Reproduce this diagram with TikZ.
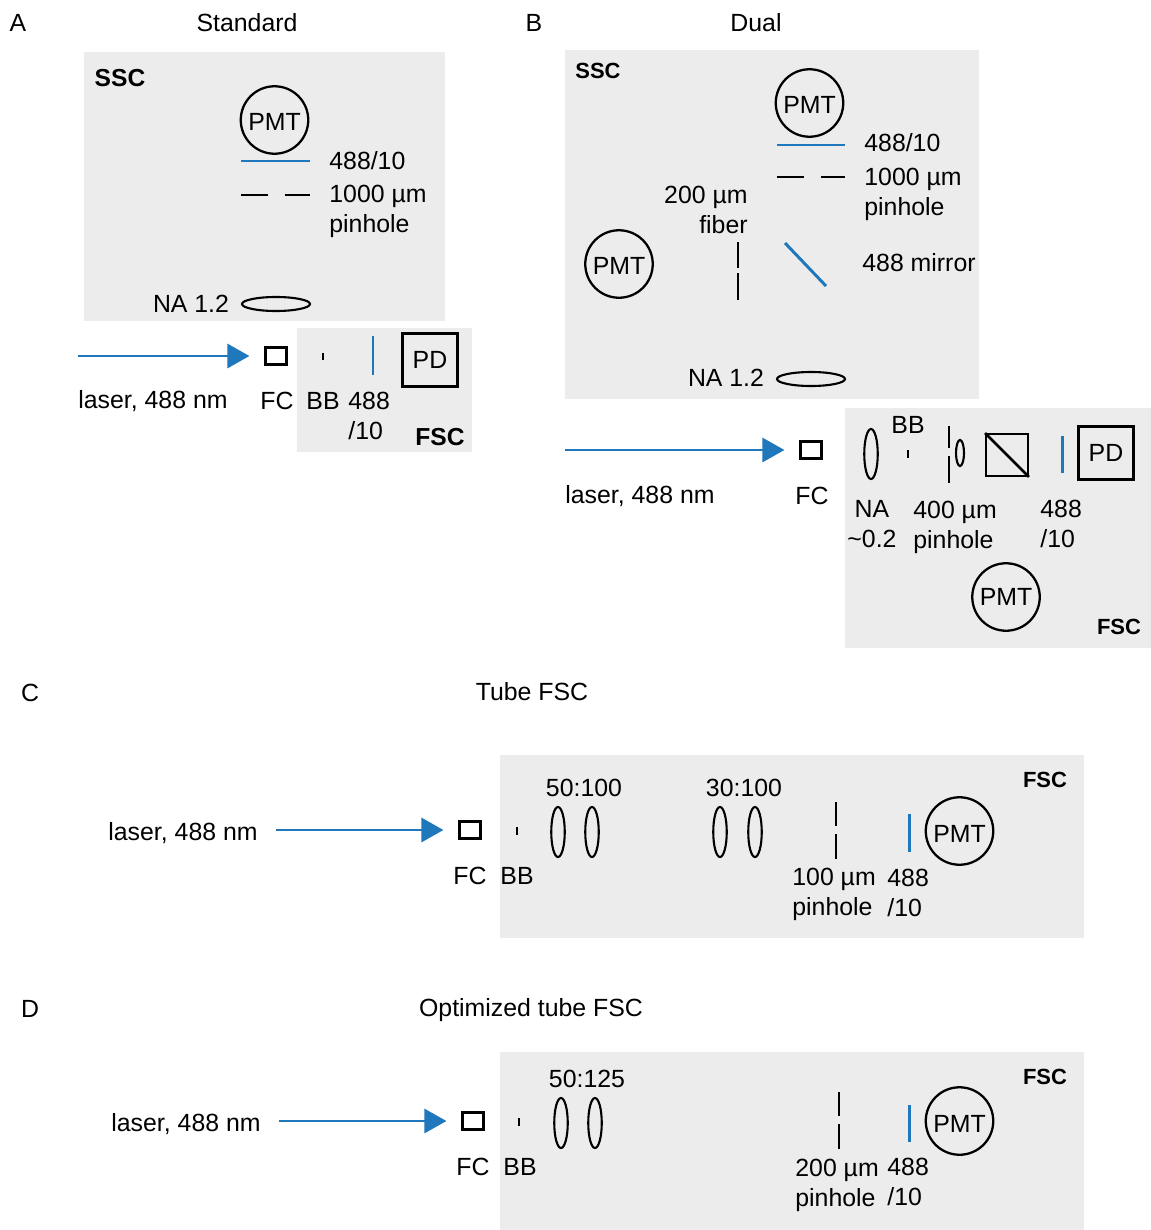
\documentclass[tikz,border=0pt]{standalone}
\usepackage{fontspec}
\setmainfont{Liberation Sans}
\usepackage{tikz}
\usetikzlibrary{arrows.meta,shapes.geometric}
\definecolor{beam}{HTML}{1F77BC}
\definecolor{panel}{HTML}{ECECEC}

\begin{document}
\begin{tikzpicture}[x=0.02cm, y=-0.02cm,
  font=\fontsize{14.15}{17}\selectfont,
  lbl/.style={inner sep=0pt, align=left},
  tag/.style={inner sep=0pt, font=\fontsize{14}{17}\selectfont\bfseries},
  smalltag/.style={inner sep=0pt, font=\fontsize{12.5}{15}\selectfont\bfseries},
  pmt/.style={draw=black, circle, line width=1.3pt, minimum size=1.35cm, inner sep=0pt, text height=0.44cm},
  pd/.style={draw=black, line width=1.5pt, minimum width=1.1cm, minimum height=1.06cm, inner sep=0pt},
  fc/.style={draw=black, line width=1.2pt, minimum width=0.42cm, minimum height=0.34cm, inner sep=0pt},
  lens/.style={draw=black, ellipse, line width=1.2pt, inner sep=0pt},
  vlens/.style={lens, minimum width=0.27cm, minimum height=1cm},
  bar/.style={draw=black, line width=1.5pt},
  filt/.style={draw=beam, line width=1.7pt},
  arr/.style={-{Triangle[length=0.44cm, width=0.48cm]}, draw=beam, line width=1.6pt, shorten >=0.3cm}]
\useasboundingbox (0,0) rectangle (1151,1230);

% panels
\fill[panel] (84,52) rectangle (445,321);
\fill[panel] (297,328) rectangle (472,452);
\fill[panel] (565,50) rectangle (979,399);
\fill[panel] (845,408) rectangle (1151,648);
\fill[panel] (500,755) rectangle (1084,938);
\fill[panel] (500,1052) rectangle (1084,1230);

% titles
\foreach \n/\x/\y/\t in {a/18/23/A, b/534/23/B, c/30/693/C, d/30/1009/D,
  ta/247/23/Standard, tb/756/23/Dual, tc/532/692/Tube FSC, td/531/1010/Optimized tube FSC}
  \node[lbl] (title\n) at (\x,\y) {\t};

% detectors
\foreach \n/\x/\y in {a/274.5/120, b/809.5/103, bb/619/264, c/959.5/831, d/959.5/1121}
  \node[pmt] (pmt\n) at (\x,\y) {PMT};
\node[pmt, text height=0.35cm] (pmtbf) at (1006,597) {PMT};
\node[pd] (pda) at (430,360) {PD};
\node[pd] (pdb) at (1106,453) {PD};

% flow cells and laser beams
\foreach \n/\x/\y/\s in {a/276/356/78, b/811/450/565, c/470/830/276, d/473/1121/279} {
  \node[fc] (fc\n) at (\x,\y) {};
  \coordinate (las\n) at (\s,\y);
  \draw[arr] (las\n) -- (fc\n);
}
\node[lbl, anchor=west] (laa) at (78,401) {laser, 488 nm};
\node[lbl, anchor=west] (lab) at (565,496) {laser, 488 nm};
\node[lbl] (lac) at (183,833) {laser, 488 nm};
\node[lbl] (lad) at (186,1124) {laser, 488 nm};

% panel A
\node[tag] (ssca) at (120,78) {SSC};
\node[tag] (fsca) at (440,437) {FSC};
\draw[filt] (241,161) -- (310,161);
\draw[bar] (241,195) -- (268,195) (285,195) -- (310,195);
\node[lbl, anchor=west] (fa) at (329,161) {488/10};
\node[lbl, anchor=west] (pha) at (329,211) {1000 µm\\pinhole};
\node[lbl] (naa) at (191,304) {NA 1.2};
\node[lens, minimum width=1.36cm, minimum height=0.28cm] (la) at (276,304) {};
\node[lbl] (fcla) at (277,401) {FC};
\node[lbl] (bba) at (323,401) {BB};
\node[lbl, anchor=west] (fla) at (348,416) {488\\ /10};
\draw[bar] (323,353) -- (323,360);
\draw[filt] (373,336) -- (373,375);

% panel B
\node[smalltag] (sscb) at (598,71) {SSC};
\node[smalltag] (fscb) at (1119,627) {FSC};
\draw[filt] (777,145) -- (845,145);
\draw[bar] (777,177) -- (804,177) (821,177) -- (845,177);
\node[lbl, anchor=west] (fb) at (864,143) {488/10};
\node[lbl, anchor=west] (phb) at (864,194) {1000 µm\\pinhole};
\node[lbl, anchor=east, align=right] (fib) at (748,210) {200 µm\\fiber};
\draw[bar] (738,242) -- (738,268) (738,273) -- (738,300);
\draw[filt] (785,243) -- (826,286);
\node[lbl, anchor=west] (mib) at (862,263) {488 mirror};
\node[lbl] (nab) at (726,378) {NA 1.2};
\node[lens, minimum width=1.36cm, minimum height=0.28cm] (lb) at (811,379) {};
\node[lbl] (fclb) at (812,496) {FC};
\node[vlens] (lb1) at (871,454) {};
\node[lbl] (bbb) at (908,425) {BB};
\draw[bar] (908,450) -- (908,458);
\draw[bar] (949,426) -- (949,448) (949,456) -- (949,483);
\node[lens, minimum width=0.16cm, minimum height=0.52cm] (lb2) at (960,453) {};
\node[draw=black, line width=1.4pt, minimum size=0.83cm, inner sep=0pt] (cube) at (1007,455) {};
\draw[bar] (cube.north west) -- (cube.south east);
\draw[filt] (1062,436) -- (1062,473);
\node[lbl, align=center] (nab2) at (872,524) {NA\\ \textasciitilde 0.2};
\node[lbl, anchor=west] (phb2) at (913,527) {400 µm\\pinhole};
\node[lbl, anchor=west] (flb) at (1040,524) {488\\ /10};

% panel C
\node[smalltag] (fscc) at (1045,780) {FSC};
\node[lbl] (fclc) at (470,876) {FC};
\node[lbl] (bbc) at (517,876) {BB};
\draw[bar] (517,827) -- (517,835);
\foreach \n/\x in {1/558, 2/592, 3/720, 4/755}
  \node[vlens] (lc\n) at (\x,832) {};
\node[lbl] (rc1) at (584,788) {50:100};
\node[lbl] (rc2) at (744,788) {30:100};
\draw[bar] (836,802) -- (836,826) (836,834) -- (836,859);
\node[lbl, anchor=west] (phc) at (792,894) {100 µm\\pinhole};
\node[lbl, anchor=west] (flc) at (887,893) {488\\ /10};
\draw[filt] (909,814) -- (909,852);

% panel D
\node[smalltag] (fscd) at (1045,1077) {FSC};
\node[lbl] (fcld) at (473,1167) {FC};
\node[lbl] (bbd) at (520,1167) {BB};
\draw[bar] (519,1118) -- (519,1126);
\foreach \n/\x in {1/561, 2/595}
  \node[vlens] (ld\n) at (\x,1123) {};
\node[lbl] (rd1) at (587,1079) {50:125};
\draw[bar] (839,1092) -- (839,1116) (839,1124) -- (839,1149);
\node[lbl, anchor=west] (phd) at (795,1185) {200 µm\\pinhole};
\node[lbl, anchor=west] (fld) at (887,1182) {488\\ /10};
\draw[filt] (909,1105) -- (909,1142);
\end{tikzpicture}
\end{document}
